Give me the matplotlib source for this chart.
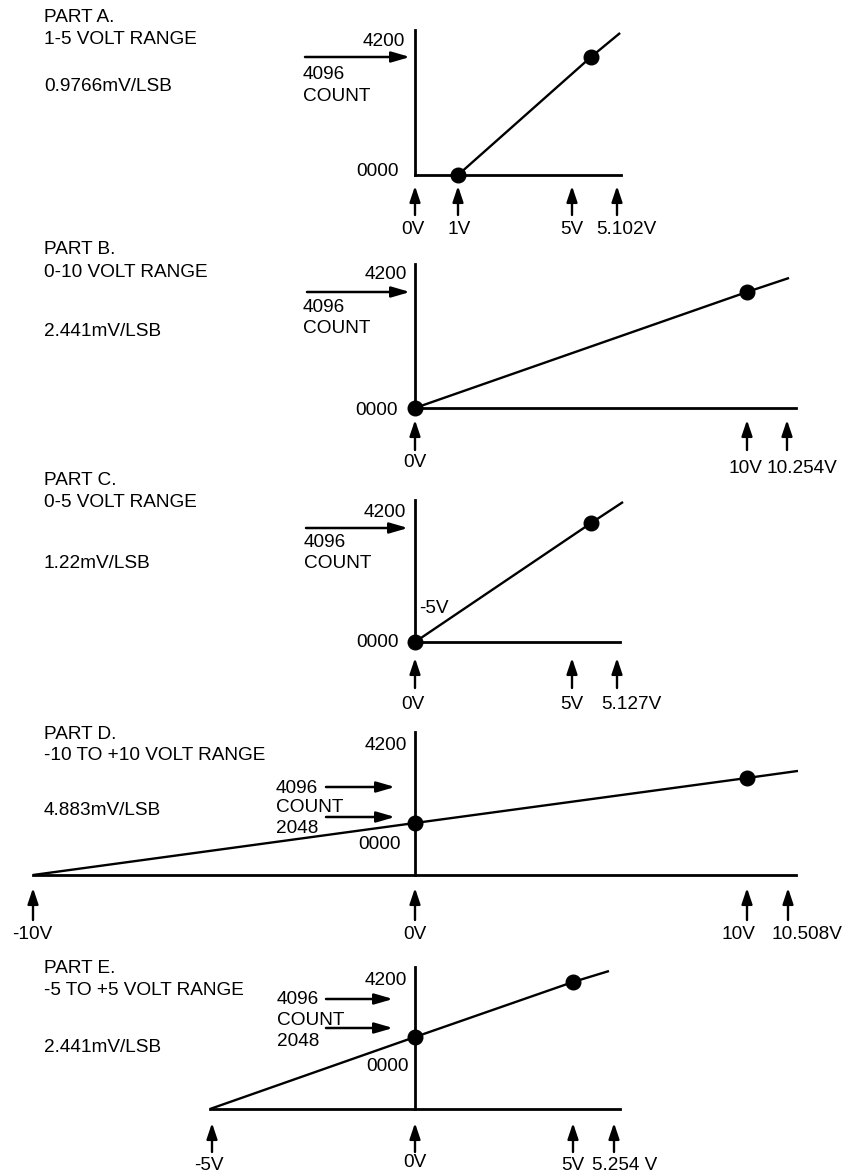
import numpy as np
import matplotlib
matplotlib.use("Agg")
import matplotlib.pyplot as plt
from matplotlib.transforms import offset_copy

plt.rcParams['font.family'] = ['Liberation Sans', 'DejaVu Sans']
FS = 13.7
W, H = 854, 1175
CAP = 6.6   # half cap height in px, used to centre caps on a y position

# ---------------- values ----------------
# Part A, 1-5 V
a_title = ['PART A.', '1-5 VOLT RANGE', '0.9766mV/LSB']
a_marks_v = [0, 1, 5, 5.102]
a_marks_lbl = ['0V', '1V', '5V', '5.102V']
a_line_v = [1, 5.043, 5.109]
a_line_c = [0, 4096, 4243]
a_dot_v = [1, 5.043]
a_dot_c = [0, 4096]
a_span_v = [0, 5.11]
a_ytop_c = 4260
a_count_lbl = ['4200', '0000', '4096', 'COUNT']

# Part B, 0-10 V
b_title = ['PART B.', '0-10 VOLT RANGE', '2.441mV/LSB']
b_marks_v = [0, 10, 10.254]
b_marks_lbl = ['0V', '10V', '10.254V']
b_line_v = [0, 10, 10.267]
b_line_c = [0, 4096, 4169]
b_dot_v = [0, 10]
b_dot_c = [0, 4096]
b_span_v = [0, 10.31]
b_ytop_c = 4242
b_count_lbl = ['4200', '0000', '4096', 'COUNT']

# Part C, 0-5 V
c_title = ['PART C.', '0-5 VOLT RANGE', '1.22mV/LSB']
c_marks_v = [0, 5, 5.127]
c_marks_lbl = ['0V', '5V', '5.127V']
c_line_v = [0, 5.054, 5.144]
c_line_c = [0, 4096, 4264]
c_dot_v = [0, 5.054]
c_dot_c = [0, 4096]
c_span_v = [0, 5.135]
c_ytop_c = 4280
c_count_lbl = ['4200', '0000', '4096', 'COUNT', '-5V']

# Part D, -10 to +10 V
d_title = ['PART D.', '-10 TO +10 VOLT RANGE', '4.883mV/LSB']
d_marks_v = [-10, 0, 10, 10.508]
d_marks_lbl = ['-10V', '0V', '10V', '10.508V']
d_line_v = [-10, 0, 10, 10.632]
d_line_c = [0, 2048, 4096, 4117]
d_dot_v = [0, 10]
d_dot_c = [2048, 4096]
d_span_v = [-10, 10.61]
d_ytop_c = 4233
d_count_lbl = ['4200', '4096', 'COUNT', '2048', '0000']

# Part E, -5 to +5 V
e_title = ['PART E.', '-5 TO +5 VOLT RANGE', '2.441mV/LSB']
e_marks_v = [-5, 0, 5, 5.254]
e_marks_lbl = ['-5V', '0V', '5V', '5.254 V']
e_line_v = [-5.05, 0, 5, 5.223]
e_line_c = [0, 2048, 4096, 4505]
e_dot_v = [0, 5]
e_dot_c = [2048, 4096]
e_span_v = [-5.05, 5.29]
e_ytop_c = 4655
e_count_lbl = ['4200', '4096', 'COUNT', '2048', '0000']

# ---------------- layout (pixels) ----------------
# the drawing is schematic, so each part gets piecewise linear scales
layout = [
    dict(title_y=[15, 37, 84], xpx=[415, 458, 572, 617],
         yk=[0, 4096, 4200], ypx=[175, 57, 40], tip=11, shaft=29,
         lbl_dx=[-2, 1, 0, 9], lbl_dy=[52, 52, 52, 52],
         harrows=[(4096, 0)], hgap=5, hlen=105,
         c_anchor=[4200, 0, 4096, 4096], c_dx=[-10, -16, -112, -112],
         c_dy=[-1, -6, 15, 37], c_ha=['right', 'right', 'left', 'left']),
    dict(title_y=[247, 270, 329], xpx=[415, 747, 787],
         yk=[0, 4096, 4200], ypx=[408, 292, 272], tip=12, shaft=30,
         lbl_dx=[0, -2, 15], lbl_dy=[52, 58, 58],
         harrows=[(4096, 0)], hgap=5, hlen=103,
         c_anchor=[4200, 0, 4096, 4096], c_dx=[-8, -17, -112, -112],
         c_dy=[0, 0, 13, 34], c_ha=['right', 'right', 'left', 'left']),
    dict(title_y=[478, 500, 561], xpx=[415, 572, 617],
         yk=[0, 4096, 4200], ypx=[642, 523, 510], tip=16, shaft=30,
         lbl_dx=[-2, 0, 14], lbl_dy=[60, 60, 60],
         harrows=[(4096, 5)], hgap=7, hlen=102,
         c_anchor=[4200, 0, 4096, 4096, 0], c_dx=[-9, -16, -111, -111, 4],
         c_dy=[0, -2, 17, 38, -36],
         c_ha=['right', 'right', 'left', 'left', 'left']),
    dict(title_y=[732, 753, 808], xpx=[33, 415, 747, 788],
         yk=[0, 2048, 4096, 4200], ypx=[875, 823, 778, 743], tip=13, shaft=32,
         lbl_dx=[-1, 0, -9, 19], lbl_dy=[57, 57, 57, 57],
         harrows=[(4096, 9), (2048, -6)], hgap=20, hlen=69,
         c_anchor=[4200, 4096, 4096, 2048, 0], c_dx=[-8, -139, -139, -139, -14],
         c_dy=[0, 8, 27, 3, -33],
         c_ha=['right', 'left', 'left', 'left', 'right']),
    dict(title_y=[966, 988, 1045], xpx=[212, 415, 573, 614],
         yk=[0, 2048, 4096], ypx=[1109, 1037, 982], tip=14, shaft=29,
         lbl_dx=[-3, 0, 0, 11], lbl_dy=[54, 51, 54, 54],
         harrows=[(4096, 17), (2048, -9)], hgap=22, hlen=67,
         c_anchor=[4200, 4096, 4096, 2048, 0], c_dx=[-8, -138, -138, -138, -6],
         c_dy=[-1, 15, 36, 2, -45],
         c_ha=['right', 'left', 'left', 'left', 'right']),
]

parts = [
    (a_title, a_marks_v, a_marks_lbl, a_line_v, a_line_c, a_dot_v, a_dot_c, a_span_v, a_ytop_c, a_count_lbl),
    (b_title, b_marks_v, b_marks_lbl, b_line_v, b_line_c, b_dot_v, b_dot_c, b_span_v, b_ytop_c, b_count_lbl),
    (c_title, c_marks_v, c_marks_lbl, c_line_v, c_line_c, c_dot_v, c_dot_c, c_span_v, c_ytop_c, c_count_lbl),
    (d_title, d_marks_v, d_marks_lbl, d_line_v, d_line_c, d_dot_v, d_dot_c, d_span_v, d_ytop_c, d_count_lbl),
    (e_title, e_marks_v, e_marks_lbl, e_line_v, e_line_c, e_dot_v, e_dot_c, e_span_v, e_ytop_c, e_count_lbl),
]


def pw(xs, ys):
    # piecewise linear map with linear extension past both ends
    xs = np.asarray(xs, float)
    ys = np.asarray(ys, float)
    k0 = (ys[1] - ys[0]) / (xs[1] - xs[0])
    k1 = (ys[-1] - ys[-2]) / (xs[-1] - xs[-2])

    def f(x):
        x = np.asarray(x, float)
        y = np.interp(x, xs, ys)
        y = np.where(x < xs[0], ys[0] + (x - xs[0]) * k0, y)
        return np.where(x > xs[-1], ys[-1] + (x - xs[-1]) * k1, y)
    return f


fig = plt.figure(figsize=(W / 100, H / 100), dpi=100)


def off(ax, dx, dy):
    return offset_copy(ax.transData, fig=fig, x=dx, y=-dy, units='dots')


up_ap = dict(arrowstyle='-|>,head_length=0.95,head_width=0.32', color='k', lw=1.7,
             shrinkA=0, shrinkB=0)
side_ap = dict(arrowstyle='-|>,head_length=1.1,head_width=0.32', color='k', lw=1.8,
               shrinkA=0, shrinkB=0)

for (title, mv, ml, lv, lc, dv, dc, span, ytop, clbl), L in zip(parts, layout):
    for s, y in zip(title, L['title_y']):
        fig.text(44 / W, 1 - (y + CAP) / H, s, fontsize=FS, ha='left', va='baseline')

    ax = fig.add_axes([0, 0, 1, 1])
    ax.set_axis_off()
    ax.patch.set_visible(False)
    ypx_neg = -np.asarray(L['ypx'], float)
    fx, fxi = pw(mv, L['xpx']), pw(L['xpx'], mv)
    fy, fyi = pw(L['yk'], ypx_neg), pw(ypx_neg, L['yk'])
    ax.set_xscale('function', functions=(fx, fxi))
    ax.set_yscale('function', functions=(fy, fyi))
    ax.set_xlim(float(fxi(0)), float(fxi(W)))
    ax.set_ylim(float(fyi(-H)), float(fyi(0)))

    k = dict(color='k', clip_on=False)
    ax.plot(span, [0, 0], lw=2.0, solid_capstyle='projecting', **k)
    ax.plot([0, 0], [0, ytop], lw=2.0, solid_capstyle='projecting', **k)
    ax.plot(lv, lc, lw=1.7, solid_capstyle='butt', **k)
    ax.plot(dv, dc, 'o', ms=10.5, **k)

    # volt markers under the base line
    for v, s, dx, dy in zip(mv, ml, L['lbl_dx'], L['lbl_dy']):
        ax.annotate('', xy=(v, 0), xycoords=off(ax, 0, L['tip']),
                    xytext=(v, 0), textcoords=off(ax, 0, L['tip'] + L['shaft']),
                    arrowprops=up_ap, annotation_clip=False)
        ax.text(v, 0, s, transform=off(ax, dx, dy + CAP), fontsize=FS,
                ha='center', va='baseline')

    # count arrows pointing at the vertical axis
    for c, dy in L['harrows']:
        ax.annotate('', xy=(0, c), xycoords=off(ax, -L['hgap'], dy),
                    xytext=(0, c), textcoords=off(ax, -L['hgap'] - L['hlen'], dy),
                    arrowprops=side_ap, annotation_clip=False)

    for s, c, dx, dy, ha in zip(clbl, L['c_anchor'], L['c_dx'], L['c_dy'], L['c_ha']):
        ax.text(0, c, s, transform=off(ax, dx, dy + CAP), fontsize=FS,
                ha=ha, va='baseline')

fig.savefig('out.png', dpi=100)
